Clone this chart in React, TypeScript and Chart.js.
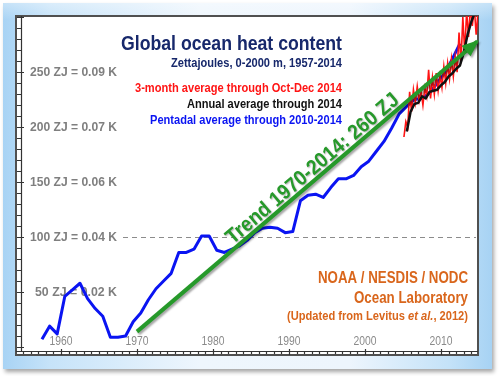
import React, { useEffect, useRef } from "react";
import { Chart, registerables } from "chart.js";

Chart.register(...registerables);

// ---------- data ----------
const pentadYears = [
  1957.5, 1958.5, 1959.5, 1960.5, 1961.5, 1962.5, 1963.5, 1964.5, 1965.5, 1966.5,
  1967.5, 1968.5, 1969.5, 1970.5, 1971.5, 1972.5, 1973.5, 1974.5, 1975.5, 1976.5,
  1977.5, 1978.5, 1979.5, 1980.5, 1981.5, 1982.5, 1983.5, 1984.5, 1985.5, 1986.5,
  1987.5, 1988.5, 1989.5, 1990.5, 1991.5, 1992.5, 1993.5, 1994.5, 1995.5, 1996.5,
  1997.5, 1998.5, 1999.5, 2000.5, 2001.5, 2002.5, 2003.5, 2004.5, 2005.5, 2006.5,
  2007.5, 2008.5, 2009.5, 2010.5, 2011.5, 2012.5,
];
const pentadValues = [
  7, 19, 12, 46, 52, 58, 44, 35, 28, 9,
  9, 10, 23, 31, 43, 53, 60, 67, 86, 86,
  89, 101, 101, 88, 86, 89, 92, 97, 104, 108,
  109, 108, 104, 105, 133, 138, 139, 136, 145, 153,
  153, 156, 164, 169, 178, 187, 199, 212, 219, 225,
  226, 231, 240, 249, 262, 276,
];

const annualYears = [
  2005.5, 2006.0, 2006.5, 2007.0, 2007.5, 2008.0, 2008.5, 2009.0, 2009.5, 2010.0,
  2010.5, 2011.0, 2011.5, 2012.0, 2012.5, 2013.0, 2013.5, 2014.0, 2014.5,
];
const annualValues = [
  196, 214, 221, 222, 228, 226, 232, 233, 234, 238,
  241, 246, 249, 253, 256, 268, 284, 296, 305,
];

const quarterYears = [
  2005.125, 2005.375, 2005.625, 2005.875, 2006.125, 2006.375, 2006.625, 2006.875,
  2007.125, 2007.375, 2007.625, 2007.875, 2008.125, 2008.375, 2008.625, 2008.875,
  2009.125, 2009.375, 2009.625, 2009.875, 2010.125, 2010.375, 2010.625, 2010.875,
  2011.125, 2011.375, 2011.625, 2011.875, 2012.125, 2012.375, 2012.625, 2012.875,
  2013.125, 2013.375, 2013.625, 2013.875, 2014.125, 2014.375, 2014.625, 2014.875,
];
const quarterValues = [
  191, 205, 200, 232, 214, 234, 222, 237,
  224, 233, 220, 236, 228, 252, 226, 245,
  230, 249, 233, 247, 236, 255, 240, 258,
  244, 262, 246, 264, 250, 286, 258, 300,
  268, 305, 282, 310, 292, 310, 284, 305,
];

const trendYears = [1970, 2014.8];
const trendValues = [14, 278];

const yLabelValues = [250, 200, 150, 100, 50];
const yLabelTexts = [
  "250 ZJ = 0.09 K",
  "200 ZJ = 0.07 K",
  "150 ZJ = 0.06 K",
  "100 ZJ = 0.04 K",
  "50 ZJ = 0.02 K",
];
const xTickYears = [1960, 1970, 1980, 1990, 2000, 2010];
const referenceLevel = 100;

const titleText = "Global ocean heat content";
const subtitleText = "Zettajoules, 0-2000 m, 1957-2014";
const legendTexts = [
  "3-month average through Oct-Dec 2014",
  "Annual average through 2014",
  "Pentadal average through 2010-2014",
];
const creditTexts = ["NOAA / NESDIS / NODC", "Ocean Laboratory"];
const trendText = "Trend 1970-2014: 260 ZJ";

// ---------- styles ----------
const BLUE = "#0a14f2";
const BLACK = "#111111";
const RED = "#ff1414";
const GREEN = "#26992a";
const NAVY = "#17286b";
const ORANGE = "#d9661c";
const GRAY = "#7f7f7f";

const NARROW = '"Liberation Sans Narrow", "Liberation Sans", Arial, sans-serif';
const SANS = '"Liberation Sans", Arial, sans-serif';

type Part = { text: string; font: string };

function drawFitted(
  ctx: CanvasRenderingContext2D,
  parts: Part[],
  x: number,
  yMid: number,
  align: "left" | "right" | "center",
  width: number,
  color: string,
  size: number
) {
  ctx.save();
  let total = 0;
  const widths: number[] = [];
  for (const p of parts) {
    ctx.font = p.font;
    const w = ctx.measureText(p.text).width;
    widths.push(w);
    total += w;
  }
  const s = width / total;
  let startX = x;
  if (align === "right") startX = x - width;
  if (align === "center") startX = x - width / 2;
  ctx.translate(startX, yMid + size * 0.358);
  ctx.scale(s, 1);
  ctx.fillStyle = color;
  ctx.textAlign = "left";
  ctx.textBaseline = "alphabetic";
  let off = 0;
  parts.forEach((p, i) => {
    ctx.font = p.font;
    ctx.fillText(p.text, off, 0);
    off += widths[i];
  });
  ctx.restore();
}

const decorPlugin = {
  id: "decor",
  beforeDraw(chart: any) {
    const ctx: CanvasRenderingContext2D = chart.ctx;
    const ca = chart.chartArea;
    const W = chart.width;
    const H = chart.height;
    ctx.save();
    ctx.fillStyle = "#ffffff";
    ctx.fillRect(0, 0, W, H);
    // frame with shadow
    ctx.shadowColor = "rgba(0,0,0,0.35)";
    ctx.shadowBlur = 4;
    ctx.shadowOffsetX = 2;
    ctx.shadowOffsetY = 3;
    const g = ctx.createLinearGradient(0, 0, W, 0);
    g.addColorStop(0, "#a6d2f4");
    g.addColorStop(0.1, "#c6e3f9");
    g.addColorStop(0.4, "#eef6fd");
    g.addColorStop(0.7, "#edf5fd");
    g.addColorStop(0.9, "#c4e2f8");
    g.addColorStop(1, "#a2d0f3");
    ctx.fillStyle = g;
    ctx.fillRect(3, 3, W - 10, H - 10);
    ctx.shadowColor = "transparent";
    // top pale overlay
    const gv = ctx.createLinearGradient(0, 3, 0, 20);
    gv.addColorStop(0, "rgba(255,255,255,0.35)");
    gv.addColorStop(1, "rgba(255,255,255,0)");
    ctx.fillStyle = gv;
    ctx.fillRect(3, 3, W - 10, 17);
    // plot box
    const bx = ca.left - 5;
    const by = ca.top;
    const bw = ca.right - bx;
    const bh = ca.bottom + 4 - by;
    ctx.fillStyle = "#ffffff";
    ctx.fillRect(bx, by, bw, bh);
    ctx.strokeStyle = "#505050";
    ctx.lineWidth = 2;
    ctx.strokeRect(bx, by, bw, bh);
    ctx.restore();
  },
  beforeDatasetsDraw(chart: any) {
    const ctx: CanvasRenderingContext2D = chart.ctx;
    const ca = chart.chartArea;
    const xs = chart.scales.x;
    const ys = chart.scales.y;
    ctx.save();
    // left axis
    ctx.strokeStyle = "#333333";
    ctx.lineWidth = 1.2;
    ctx.beginPath();
    ctx.moveTo(ca.left + 0.5, ca.top);
    ctx.lineTo(ca.left + 0.5, ca.bottom);
    for (let v = 0; v <= 300; v += 10) {
      const y = Math.round(ys.getPixelForValue(v)) + 0.5;
      const major = v % 50 === 0;
      ctx.moveTo(ca.left - 4, y);
      ctx.lineTo(ca.left + (major ? 3 : 0.5), y);
    }
    // bottom axis
    ctx.moveTo(ca.left - 5, ca.bottom + 0.5);
    ctx.lineTo(ca.right, ca.bottom + 0.5);
    for (let yr = 1955; yr <= 2014; yr += 1) {
      const x = Math.round(xs.getPixelForValue(yr)) + 0.5;
      const major = yr % 10 === 0;
      ctx.moveTo(x, ca.bottom - (major ? 2 : 0));
      ctx.lineTo(x, ca.bottom + (major ? 4 : 3));
    }
    ctx.stroke();

    // dashed reference line
    const yRef = Math.round(ys.getPixelForValue(referenceLevel)) + 0.5;
    ctx.strokeStyle = "#8c8c8c";
    ctx.lineWidth = 1.2;
    ctx.setLineDash([5, 4]);
    ctx.beginPath();
    ctx.moveTo(123, yRef);
    ctx.lineTo(ca.right - 2, yRef);
    ctx.stroke();
    ctx.setLineDash([]);

    // y labels
    yLabelTexts.forEach((t, i) => {
      const y = ys.getPixelForValue(yLabelValues[i]);
      const w = t.length === 15 ? 87 : 82;
      drawFitted(ctx, [{ text: t, font: `bold 12px ${SANS}` }], 117, y, "right", w, GRAY, 12);
    });

    // x labels
    xTickYears.forEach((yr) => {
      const x = xs.getPixelForValue(yr);
      drawFitted(ctx, [{ text: String(yr), font: `12px ${NARROW}` }], x, 340.5, "center", 23, "#8a8a8a", 12);
    });

    // title block
    drawFitted(ctx, [{ text: titleText, font: `bold 21px ${NARROW}` }], 342, 42.5, "right", 221, NAVY, 21);
    drawFitted(ctx, [{ text: subtitleText, font: `bold 12px ${NARROW}` }], 342, 62.5, "right", 171, NAVY, 12);
    const legendColors = [RED, BLACK, BLUE];
    const legendLefts = [135, 187, 150];
    const legendY = [87, 103, 119];
    legendTexts.forEach((t, i) => {
      drawFitted(ctx, [{ text: t, font: `bold 13px ${NARROW}` }], 342, legendY[i], "right", 342 - legendLefts[i], legendColors[i], 13);
    });

    // credits
    drawFitted(ctx, [{ text: creditTexts[0], font: `bold 16px ${NARROW}` }], 468, 277, "right", 150, ORANGE, 16);
    drawFitted(ctx, [{ text: creditTexts[1], font: `bold 16px ${NARROW}` }], 468, 297, "right", 114, ORANGE, 16);
    drawFitted(
      ctx,
      [
        { text: "(Updated from Levitus ", font: `bold 13px ${NARROW}` },
        { text: "et al.", font: `italic bold 13px ${NARROW}` },
        { text: ", 2012)", font: `bold 13px ${NARROW}` },
      ],
      468,
      315.5,
      "right",
      181,
      ORANGE,
      13
    );
    ctx.restore();
  },
  beforeDatasetDraw(chart: any, args: any) {
    if (args.index === 0) {
      const ctx = chart.ctx;
      ctx.save();
      ctx.shadowColor = "rgba(0,0,0,0.35)";
      ctx.shadowBlur = 2;
      ctx.shadowOffsetX = 1.5;
      ctx.shadowOffsetY = 2;
    }
  },
  afterDatasetDraw(chart: any, args: any) {
    if (args.index === 0) {
      chart.ctx.restore();
    }
  },
  afterDatasetsDraw(chart: any) {
    const ctx: CanvasRenderingContext2D = chart.ctx;
    const xs = chart.scales.x;
    const ys = chart.scales.y;
    const x0 = xs.getPixelForValue(trendYears[0]);
    const y0 = ys.getPixelForValue(trendValues[0]);
    const x1 = xs.getPixelForValue(trendYears[1]);
    const y1 = ys.getPixelForValue(trendValues[1]);
    const dx = x1 - x0;
    const dy = y1 - y0;
    const len = Math.sqrt(dx * dx + dy * dy);
    const ux = dx / len;
    const uy = dy / len;
    const nx = uy; // normal (up-left side)
    const ny = -ux;
    ctx.save();
    ctx.shadowColor = "rgba(0,0,0,0.35)";
    ctx.shadowBlur = 2;
    ctx.shadowOffsetX = 1.5;
    ctx.shadowOffsetY = 2;
    // arrow head
    const hl = 17;
    const hw = 7;
    const tipX = x1 + ux * 2;
    const tipY = y1 + uy * 2;
    const bX = tipX - ux * hl;
    const bY = tipY - uy * hl;
    ctx.fillStyle = GREEN;
    ctx.beginPath();
    ctx.moveTo(tipX, tipY);
    ctx.lineTo(bX + nx * hw, bY + ny * hw);
    ctx.lineTo(bX - nx * hw, bY - ny * hw);
    ctx.closePath();
    ctx.fill();
    // trend label
    const along = len * 0.535;
    const cx = x0 + ux * along + nx * 3;
    const cy = y0 + uy * along + ny * 3;
    ctx.translate(cx, cy);
    ctx.rotate(Math.atan2(dy, dx));
    ctx.shadowBlur = 1.5;
    ctx.shadowOffsetX = 1;
    ctx.shadowOffsetY = 1;
    ctx.shadowColor = "rgba(0,0,0,0.3)";
    drawFitted(ctx, [{ text: trendText, font: `bold 21px ${NARROW}` }], 0, -8.5, "center", 220, GREEN, 21);
    ctx.restore();
  },
};

export default function App() {
  const ref = useRef<HTMLCanvasElement | null>(null);
  useEffect(() => {
    if (!ref.current) return;
    const toXY = (xs: number[], ys: number[]) => xs.map((x, i) => ({ x, y: ys[i] }));
    const chart = new Chart(ref.current, {
      type: "line",
      data: {
        datasets: [
          {
            label: "Trend",
            data: toXY(trendYears, trendValues),
            borderColor: GREEN,
            borderWidth: 4,
            borderCapStyle: "butt",
            pointRadius: 0,
          },
          {
            label: "Annual",
            data: toXY(annualYears, annualValues),
            borderColor: BLACK,
            borderWidth: 2.5,
            pointRadius: 0,
            borderJoinStyle: "round",
          },
          {
            label: "3-month",
            data: toXY(quarterYears, quarterValues),
            borderColor: RED,
            borderWidth: 1.6,
            pointRadius: 0,
          },
          {
            label: "Pentadal",
            data: toXY(pentadYears, pentadValues),
            borderColor: BLUE,
            borderWidth: 3,
            pointRadius: 0,
            borderJoinStyle: "round",
          },
        ],
      },
      options: {
        animation: false,
        responsive: false,
        maintainAspectRatio: false,
        layout: { padding: { left: 21, right: 21, top: 16, bottom: 25 } },
        scales: {
          x: { type: "linear", min: 1954.74, max: 2014.87, display: false },
          y: { type: "linear", min: -3.6, max: 301, display: false },
        },
        plugins: {
          legend: { display: false },
          tooltip: { enabled: false },
        },
        elements: { line: { tension: 0 }, point: { radius: 0 } },
      },
      plugins: [decorPlugin],
    } as any);
    return () => chart.destroy();
  }, []);
  return (
    <div style={{ position: "fixed", left: 0, top: 0, width: 499, height: 376 }}>
      <canvas ref={ref} width={499} height={376} style={{ display: "block" }} />
    </div>
  );
}
